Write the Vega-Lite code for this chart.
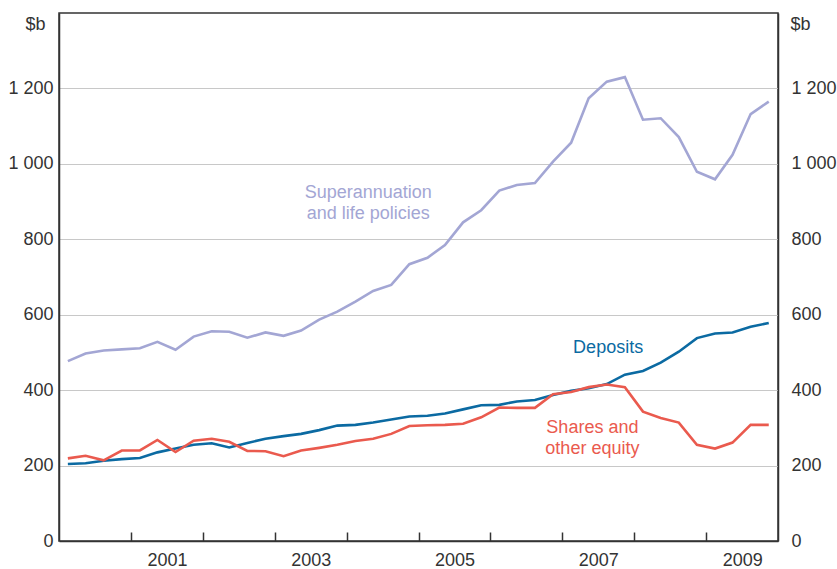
{
  "$schema": "https://vega.github.io/schema/vega-lite/v6.json",
  "width": 719,
  "height": 528,
  "autosize": "none",
  "padding": {"left": 59, "top": 13, "right": 59, "bottom": 28},
  "background": "white",
  "config": {
    "font": "Liberation Sans",
    "view": {"stroke": "#333333", "strokeWidth": 1.5},
    "axis": {
      "labelFont": "Liberation Sans",
      "titleFont": "Liberation Sans",
      "labelFontSize": 18,
      "titleFontSize": 18,
      "labelColor": "#333333",
      "titleColor": "#333333",
      "titleFontWeight": "normal",
      "domainColor": "#333333",
      "domainWidth": 1.5,
      "tickColor": "#333333",
      "tickWidth": 1.5,
      "gridColor": "#c8c8c8",
      "gridWidth": 1.2
    }
  },
  "resolve": {"axis": {"y": "independent"}},
  "encoding": {
    "x": {
      "field": "date",
      "type": "temporal",
      "scale": {"domain": ["2000-01-01", "2010-01-01"], "nice": false},
      "axis": {
        "title": null,
        "grid": false,
        "values": ["2001-01-01", "2002-01-01", "2003-01-01", "2004-01-01", "2005-01-01", "2006-01-01", "2007-01-01", "2008-01-01", "2009-01-01"],
        "labelExpr": "year(datum.value) % 2 == 1 ? timeFormat(datum.value, '%Y') : ''",
        "labelOffset": 36,
        "tickSize": -9,
        "labelPadding": 19,
        "labelBaseline": "top",
        "labelAlign": "center",
        "labelFlush": false,
        "labelOverlap": false
      }
    }
  },
  "layer": [
    {
      "data": {
        "values": [
          {"date": "2000-02-15", "Superannuation": 477, "Deposits": 204, "Shares": 219},
          {"date": "2000-05-15", "Superannuation": 497, "Deposits": 206, "Shares": 226},
          {"date": "2000-08-15", "Superannuation": 505, "Deposits": 213, "Shares": 214},
          {"date": "2000-11-15", "Superannuation": 508, "Deposits": 217, "Shares": 240},
          {"date": "2001-02-15", "Superannuation": 511, "Deposits": 220, "Shares": 240},
          {"date": "2001-05-15", "Superannuation": 528, "Deposits": 235, "Shares": 268},
          {"date": "2001-08-15", "Superannuation": 507, "Deposits": 245, "Shares": 236},
          {"date": "2001-11-15", "Superannuation": 542, "Deposits": 255, "Shares": 266},
          {"date": "2002-02-15", "Superannuation": 556, "Deposits": 259, "Shares": 271},
          {"date": "2002-05-15", "Superannuation": 555, "Deposits": 248, "Shares": 263},
          {"date": "2002-08-15", "Superannuation": 539, "Deposits": 260, "Shares": 239},
          {"date": "2002-11-15", "Superannuation": 553, "Deposits": 271, "Shares": 238},
          {"date": "2003-02-15", "Superannuation": 544, "Deposits": 278, "Shares": 225},
          {"date": "2003-05-15", "Superannuation": 558, "Deposits": 284, "Shares": 240},
          {"date": "2003-08-15", "Superannuation": 587, "Deposits": 294, "Shares": 247},
          {"date": "2003-11-15", "Superannuation": 608, "Deposits": 306, "Shares": 255},
          {"date": "2004-02-15", "Superannuation": 635, "Deposits": 308, "Shares": 265},
          {"date": "2004-05-15", "Superannuation": 663, "Deposits": 314, "Shares": 271},
          {"date": "2004-08-15", "Superannuation": 679, "Deposits": 322, "Shares": 284},
          {"date": "2004-11-15", "Superannuation": 734, "Deposits": 330, "Shares": 305},
          {"date": "2005-02-15", "Superannuation": 751, "Deposits": 332, "Shares": 307},
          {"date": "2005-05-15", "Superannuation": 785, "Deposits": 338, "Shares": 308},
          {"date": "2005-08-15", "Superannuation": 845, "Deposits": 349, "Shares": 311},
          {"date": "2005-11-15", "Superannuation": 877, "Deposits": 360, "Shares": 328},
          {"date": "2006-02-15", "Superannuation": 929, "Deposits": 361, "Shares": 354},
          {"date": "2006-05-15", "Superannuation": 944, "Deposits": 370, "Shares": 353},
          {"date": "2006-08-15", "Superannuation": 949, "Deposits": 374, "Shares": 353},
          {"date": "2006-11-15", "Superannuation": 1006, "Deposits": 387, "Shares": 389},
          {"date": "2007-02-15", "Superannuation": 1056, "Deposits": 398, "Shares": 395},
          {"date": "2007-05-15", "Superannuation": 1174, "Deposits": 405, "Shares": 408},
          {"date": "2007-08-15", "Superannuation": 1218, "Deposits": 416, "Shares": 415},
          {"date": "2007-11-15", "Superannuation": 1230, "Deposits": 441, "Shares": 408},
          {"date": "2008-02-15", "Superannuation": 1117, "Deposits": 451, "Shares": 343},
          {"date": "2008-05-15", "Superannuation": 1121, "Deposits": 473, "Shares": 326},
          {"date": "2008-08-15", "Superannuation": 1071, "Deposits": 502, "Shares": 314},
          {"date": "2008-11-15", "Superannuation": 979, "Deposits": 538, "Shares": 255},
          {"date": "2009-02-15", "Superannuation": 959, "Deposits": 550, "Shares": 245},
          {"date": "2009-05-15", "Superannuation": 1024, "Deposits": 553, "Shares": 261},
          {"date": "2009-08-15", "Superannuation": 1132, "Deposits": 568, "Shares": 308},
          {"date": "2009-11-15", "Superannuation": 1165, "Deposits": 578, "Shares": 308}
        ]
      },
      "transform": [
        {"fold": ["Superannuation", "Deposits", "Shares"], "as": ["series", "value"]}
      ],
      "mark": {"type": "line", "strokeWidth": 2.6, "strokeJoin": "miter"},
      "encoding": {
        "y": {
          "field": "value",
          "type": "quantitative",
          "scale": {"domain": [0, 1400], "nice": false, "zero": true},
          "axis": {
            "orient": "left",
            "values": [0, 200, 400, 600, 800, 1000, 1200],
            "labelExpr": "replace(format(datum.value, ','), ',', ' ')",
            "ticks": false,
            "labelPadding": 6,
            "grid": true,
            "title": "$b",
            "titleAngle": 0,
            "titleAlign": "center",
            "titleBaseline": "middle",
            "titleX": -24,
            "titleY": 11
          }
        },
        "color": {
          "field": "series",
          "type": "nominal",
          "scale": {"domain": ["Superannuation", "Deposits", "Shares"], "range": ["#a3a6d4", "#0b6aa2", "#ea5a4e"]},
          "legend": null
        }
      }
    },
    {
      "data": {
        "values": [
          {"date": "2004-04-20", "value": 922, "series": "Superannuation", "label": "Superannuation\nand life policies"},
          {"date": "2007-08-22", "value": 512, "series": "Deposits", "label": "Deposits"},
          {"date": "2007-06-03", "value": 299, "series": "Shares", "label": "Shares and\nother equity"}
        ]
      },
      "mark": {"type": "text", "fontSize": 18, "font": "Liberation Sans", "lineBreak": "\n", "lineHeight": 21, "align": "center", "baseline": "middle"},
      "encoding": {
        "y": {
          "field": "value",
          "type": "quantitative",
          "axis": {
            "orient": "right",
            "values": [0, 200, 400, 600, 800, 1000, 1200],
            "labelExpr": "replace(format(datum.value, ','), ',', ' ')",
            "ticks": false,
            "labelPadding": 13,
            "grid": false,
            "title": "$b",
            "titleAngle": 0,
            "titleAlign": "center",
            "titleBaseline": "middle",
            "titleX": 22,
            "titleY": 11
          }
        },
        "text": {"field": "label", "type": "nominal"},
        "color": {"field": "series", "type": "nominal", "legend": null}
      }
    }
  ]
}
